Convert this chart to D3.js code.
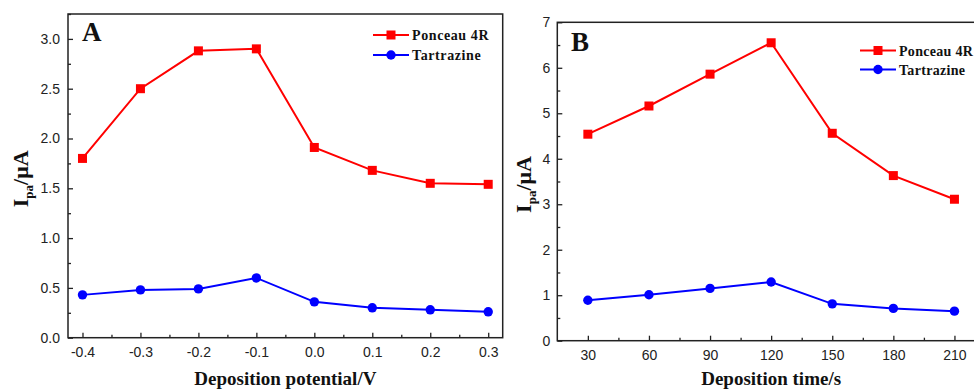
<!DOCTYPE html>
<html><head><meta charset="utf-8">
<script src="https://cdn.jsdelivr.net/npm/d3@7"></script>
<style>
html,body{margin:0;padding:0;background:#fff;}
svg{display:block;}
.tick text{font-family:"Liberation Sans",Arial,sans-serif;font-size:14px;fill:#222;}
.serif{font-family:"Liberation Serif","Times New Roman",serif;font-weight:bold;fill:#111;}
</style>
</head><body>
<svg id="c" width="974" height="389"></svg>
<script>
// ---- data ----
const potentials = [-0.4, -0.3, -0.2, -0.1, 0.0, 0.1, 0.2, 0.3];
const ponceauA = [1.80, 2.50, 2.88, 2.90, 1.91, 1.68, 1.55, 1.54];
const tartrazineA = [0.43, 0.48, 0.49, 0.60, 0.36, 0.30, 0.28, 0.26];
const times = [30, 60, 90, 120, 150, 180, 210];
const ponceauB = [4.54, 5.16, 5.86, 6.55, 4.56, 3.63, 3.11];
const tartrazineB = [0.89, 1.01, 1.15, 1.29, 0.81, 0.71, 0.65];
const yTicksA = [0.0, 0.5, 1.0, 1.5, 2.0, 2.5, 3.0];
const yMinorA = [0.25, 0.75, 1.25, 1.75, 2.25, 2.75, 3.25];
const xMinorA = [-0.35, -0.25, -0.15, -0.05, 0.05, 0.15, 0.25];
const yTicksB = [0, 1, 2, 3, 4, 5, 6, 7];
const yMinorB = [0.5, 1.5, 2.5, 3.5, 4.5, 5.5, 6.5];
const xMinorB = [45, 75, 105, 135, 165, 195];
const seriesNames = ["Ponceau 4R", "Tartrazine"];
const colors = ["#ff0000", "#0000ff"];

const svg = d3.select("#c");

function panel(cfg) {
  const g = svg.append("g");
  const x = d3.scaleLinear().domain(cfg.xDomain).range(cfg.xRange);
  const y = d3.scaleLinear().domain(cfg.yDomain).range(cfg.yRange);
  const [x0, x1] = cfg.xRange, [y0, y1] = cfg.yRange;

  // frame
  g.append("rect").attr("x", x0).attr("y", y1).attr("width", x1 - x0).attr("height", y0 - y1)
    .attr("fill", "none").attr("stroke", "#222").attr("stroke-width", 1.5);

  // x axis major
  const xa = g.append("g").attr("transform", `translate(0,${y0})`)
    .call(d3.axisBottom(x).tickValues(cfg.xTicks).tickSizeInner(-5).tickSizeOuter(0)
      .tickPadding(9).tickFormat(cfg.xFmt));
  xa.select(".domain").remove();
  xa.selectAll(".tick line").attr("stroke", "#222").attr("stroke-width", 1.3);
  const xm = g.append("g").attr("transform", `translate(0,${y0})`)
    .call(d3.axisBottom(x).tickValues(cfg.xMinor).tickSizeInner(-3).tickSizeOuter(0).tickFormat(""));
  xm.select(".domain").remove();
  xm.selectAll(".tick line").attr("stroke", "#222").attr("stroke-width", 1.3);

  // y axis major
  const ya = g.append("g").attr("transform", `translate(${x0},0)`)
    .call(d3.axisLeft(y).tickValues(cfg.yTicks).tickSizeInner(-5).tickSizeOuter(0)
      .tickPadding(cfg.yPad).tickFormat(cfg.yFmt));
  ya.select(".domain").remove();
  ya.selectAll(".tick line").attr("stroke", "#222").attr("stroke-width", 1.3);
  const ym = g.append("g").attr("transform", `translate(${x0},0)`)
    .call(d3.axisLeft(y).tickValues(cfg.yMinor).tickSizeInner(-3).tickSizeOuter(0).tickFormat(""));
  ym.select(".domain").remove();
  ym.selectAll(".tick line").attr("stroke", "#222").attr("stroke-width", 1.3);

  // series
  const line = d3.line().x(d => x(d[0])).y(d => y(d[1]));
  cfg.series.forEach((vals, i) => {
    const pts = cfg.xs.map((xv, j) => [xv, vals[j]]);
    g.append("path").datum(pts).attr("d", line).attr("fill", "none")
      .attr("stroke", colors[i]).attr("stroke-width", 2);
    if (i === 0) {
      g.selectAll(null).data(pts).enter().append("rect")
        .attr("x", d => x(d[0]) - 4.5).attr("y", d => y(d[1]) - 4.5)
        .attr("width", 9).attr("height", 9).attr("fill", colors[i]);
    } else {
      g.selectAll(null).data(pts).enter().append("circle")
        .attr("cx", d => x(d[0])).attr("cy", d => y(d[1])).attr("r", 4.7).attr("fill", colors[i]);
    }
  });

  // legend
  seriesNames.forEach((name, i) => {
    const ly = cfg.legY + i * cfg.legDy;
    g.append("line").attr("x1", cfg.legX).attr("x2", cfg.legX + 36).attr("y1", ly).attr("y2", ly)
      .attr("stroke", colors[i]).attr("stroke-width", 2);
    if (i === 0) {
      g.append("rect").attr("x", cfg.legX + 18 - 4.5).attr("y", ly - 4.5).attr("width", 9).attr("height", 9)
        .attr("fill", colors[i]);
    } else {
      g.append("circle").attr("cx", cfg.legX + 18).attr("cy", ly).attr("r", 4.7).attr("fill", colors[i]);
    }
    g.append("text").attr("class", "serif").attr("x", cfg.legX + 39).attr("y", ly + 5)
      .attr("font-size", 14).attr("letter-spacing", cfg.legLS).text(name);
  });

  // panel letter
  g.append("text").attr("class", "serif").attr("x", cfg.letterX).attr("y", cfg.letterY)
    .attr("font-size", 27).text(cfg.letter);

  // x title
  g.append("text").attr("class", "serif").attr("x", (x0 + x1) / 2).attr("y", 385)
    .attr("text-anchor", "middle").attr("font-size", 19).text(cfg.xTitle);

  // y title
  const yt = g.append("text").attr("class", "serif")
    .attr("transform", `translate(${cfg.yTitleX},${(y0 + y1) / 2 + 3}) rotate(-90)`)
    .attr("text-anchor", "middle").attr("font-size", 22);
  yt.append("tspan").text("I");
  yt.append("tspan").attr("font-size", 13).attr("dy", 5).text("pa");
  yt.append("tspan").attr("dy", -5).text("/μA");
}

panel({
  xDomain: [-0.425, 0.325], xRange: [68, 502.7],
  yDomain: [0, 3.25], yRange: [337.7, 14],
  xTicks: potentials, xMinor: xMinorA, xFmt: d => d.toFixed(1),
  yTicks: yTicksA, yMinor: yMinorA, yFmt: d => d.toFixed(1), yPad: 8,
  xs: potentials, series: [ponceauA, tartrazineA],
  legX: 373, legY: 35, legDy: 20, legLS: 0.6,
  letter: "A", letterX: 82, letterY: 41,
  xTitle: "Deposition potential/V", yTitleX: 28
});

panel({
  xDomain: [15, 225], xRange: [557.3, 985],
  yDomain: [0, 7], yRange: [340.7, 22.3],
  xTicks: times, xMinor: xMinorB, xFmt: d => String(d),
  yTicks: yTicksB, yMinor: yMinorB, yFmt: d => String(d), yPad: 7,
  xs: times, series: [ponceauB, tartrazineB],
  legX: 860, legY: 50.5, legDy: 19, legLS: 0.3,
  letter: "B", letterX: 571, letterY: 51,
  xTitle: "Deposition time/s", yTitleX: 531
});
</script>
</body></html>
